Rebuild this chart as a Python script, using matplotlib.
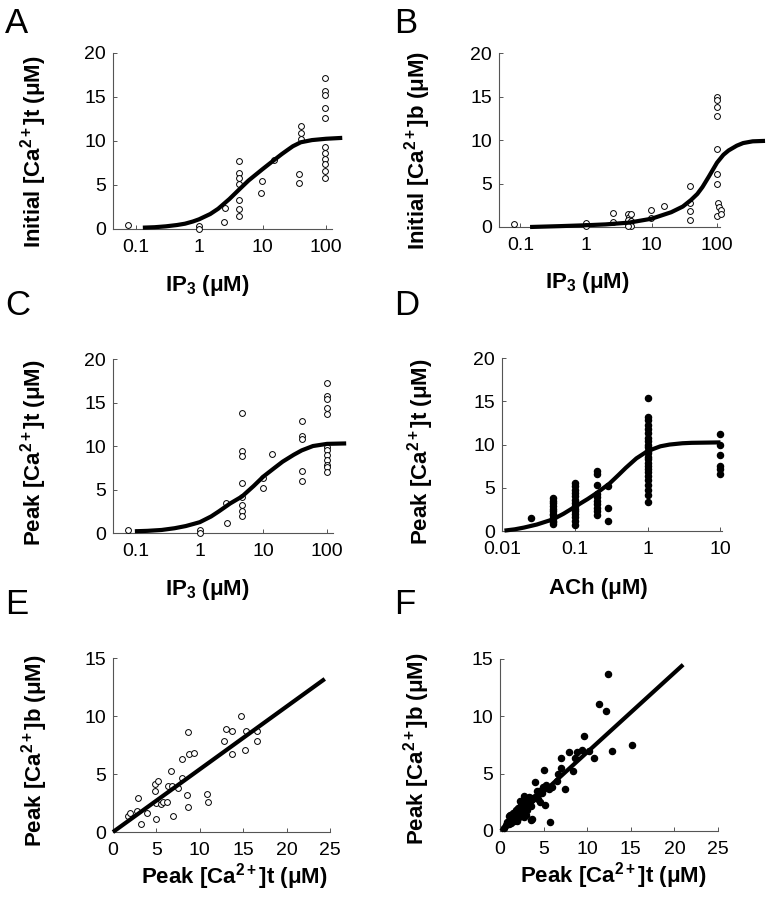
import numpy as np
import matplotlib
matplotlib.use("Agg")
import matplotlib.pyplot as plt

plt.rcParams['font.family'] = ['Liberation Sans', 'DejaVu Sans']
plt.rcParams['mathtext.fontset'] = 'custom'
plt.rcParams['mathtext.rm'] = 'Liberation Sans'
plt.rcParams['mathtext.bf'] = 'Liberation Sans:bold'
plt.rcParams['mathtext.it'] = 'Liberation Sans:italic'

# ---- panel A: initial [Ca2+]t vs IP3 ----
a_x = [0.075, 1.0, 1.0, 2.6, 2.5,
       4.3, 4.3, 4.3, 4.3, 4.3, 4.3, 4.3,
       9.7, 9.5, 15, 38, 38, 40, 40, 40,
       98, 98, 98, 98, 98, 98, 98, 98, 98, 98, 98]
a_y = [0.4, 0.3, 0.0, 2.4, 0.8,
       7.7, 6.4, 5.8, 5.1, 3.3, 2.3, 1.5,
       5.4, 4.1, 7.8, 6.3, 5.2, 11.7, 10.9, 10.2,
       17.1, 15.7, 15.2, 13.8, 12.6, 9.3, 8.6, 7.9, 7.4, 6.6, 5.8]
a_fit_x = [0.13, 0.2, 0.3, 0.45, 0.6, 0.8, 1.0, 1.5, 2.0, 3.0, 4.3, 6.0,
           10, 15, 20, 25, 30, 40, 60, 100, 180]
a_fit_y = [0.15, 0.2, 0.3, 0.45, 0.6, 0.85, 1.1, 1.7, 2.3, 3.4, 4.5, 5.5,
           6.8, 7.8, 8.5, 9.0, 9.4, 9.85, 10.1, 10.25, 10.35]

# ---- panel B: initial [Ca2+]b vs IP3 ----
b_x = [0.08, 1.0, 1.0, 2.6, 2.6,
       4.3, 4.6, 4.3, 4.9, 4.8, 4.3, 4.9, 4.3,
       9.9, 9.9, 15.3, 38, 38, 38, 38,
       100, 100, 100, 100, 100, 100, 100, 104, 106, 113, 100, 115]
b_y = [0.4, 0.5, 0.1, 1.6, 0.6,
       1.45, 1.15, 0.85, 1.45, 0.7, 0.4, 0.1, 0.1,
       1.9, 1.0, 2.45, 4.7, 2.8, 1.8, 0.8,
       14.9, 14.6, 13.8, 12.8, 9.0, 6.1, 4.9, 2.8, 2.3, 2.0, 1.3, 1.45]
b_fit_x = [0.14, 0.4, 1.0, 2.0, 4.5, 10, 20, 30, 40, 50, 60, 75, 100,
           125, 150, 200, 250, 350, 540]
b_fit_y = [0.0, 0.1, 0.2, 0.3, 0.5, 0.95, 1.7, 2.35, 3.1, 3.8, 4.6, 5.8, 7.4,
           8.3, 8.8, 9.35, 9.65, 9.85, 9.9]

# ---- panel C: peak [Ca2+]t vs IP3 ----
c_x = [0.075, 1.0, 1.0, 2.6, 2.7,
       4.6, 4.6, 4.6, 4.6, 4.6, 4.6, 4.6, 4.6,
       9.8, 10, 13.4, 40, 40, 40, 40, 40,
       100, 100, 100, 100, 100, 100, 100, 100, 100, 100, 100, 100]
c_y = [0.35, 0.3, 0.0, 3.5, 1.2,
       13.8, 9.4, 8.8, 5.7, 4.1, 3.25, 2.5, 2.0,
       6.3, 5.2, 9.1, 12.9, 11.1, 10.85, 7.1, 6.0,
       17.3, 15.8, 15.4, 14.4, 13.7, 9.9, 9.6, 9.0, 8.4, 7.8, 7.6, 7.0]
c_fit_x = [0.095, 0.15, 0.25, 0.4, 0.6, 0.8, 1.0, 1.5, 2.0, 3.0, 4.6, 7.0,
           10, 15, 20, 30, 40, 60, 100, 200]
c_fit_y = [0.2, 0.25, 0.35, 0.55, 0.8, 1.05, 1.25, 1.9, 2.5, 3.4, 4.2, 5.4,
           6.5, 7.5, 8.2, 9.0, 9.5, 10.0, 10.25, 10.3]

# ---- panel D: peak [Ca2+]t vs ACh ----
d_x = ([0.025] + [0.05] * 12 + [0.1] * 14 + [0.2] * 10 + [0.29] * 3
       + [1.0] * 24 + [10] * 6)
d_y = ([1.5]
       + [3.8, 3.5, 3.2, 2.9, 2.6, 2.3, 2.0, 1.8, 1.5, 1.2, 1.0, 0.8]
       + [5.6, 5.2, 4.8, 4.4, 4.0, 3.6, 3.2, 2.9, 2.6, 2.3, 2.0, 1.6, 1.2, 0.75]
       + [7.0, 6.6, 5.3, 4.3, 3.9, 3.5, 3.1, 2.7, 2.3, 1.9]
       + [5.2, 2.7, 1.2]
       + [15.4, 13.2, 12.8, 12.3, 11.8, 11.3, 10.8, 10.4, 10.0, 9.7, 9.3, 9.0,
          8.6, 8.3, 7.9, 7.5, 7.2, 6.8, 6.4, 5.9, 5.3, 4.8, 4.2, 3.4]
       + [11.2, 10.0, 8.75, 7.5, 7.15, 6.65])
d_fit_x = [0.0108, 0.015, 0.02, 0.03, 0.05, 0.07, 0.1, 0.15, 0.2, 0.3, 0.4,
           0.5, 0.7, 1.0, 1.5, 2.0, 3.0, 4.0, 10]
d_fit_y = [0.05, 0.2, 0.4, 0.75, 1.35, 2.0, 2.8, 3.7, 4.4, 5.5, 6.5,
           7.3, 8.4, 9.25, 9.8, 10.0, 10.15, 10.2, 10.25]

# ---- panel E: peak b vs peak t (IP3) ----
e_x = [1.7, 2.0, 2.9, 2.8, 3.2, 3.9, 4.8, 5.2, 4.8, 5.0, 5.0, 5.5, 5.8, 6.2,
       6.3, 6.7, 6.8, 6.9, 7.5, 7.9, 8.0, 8.5, 8.7, 8.7, 8.8, 9.3, 10.8, 11.0,
       12.8, 13.0, 13.7, 13.7, 14.7, 15.2, 15.3, 16.6, 16.6]
e_y = [1.4, 1.6, 2.9, 1.8, 0.7, 1.6, 4.1, 4.4, 3.5, 2.5, 1.15, 2.4, 2.6, 2.6,
       3.95, 5.3, 4.0, 1.4, 3.8, 6.3, 4.7, 3.2, 2.2, 8.65, 6.7, 6.8, 3.3, 2.6,
       7.85, 8.9, 8.75, 6.75, 10.0, 7.1, 8.75, 8.75, 7.85]
e_fit_x = [0, 24.4]
e_fit_y = [0, 13.2]

# ---- panel F: peak b vs peak t (ACh) ----
f_x = [0.5, 0.7, 0.8, 1.0, 1.1, 1.2, 1.3, 1.4, 1.5, 1.6, 1.7, 1.8, 1.9, 2.0,
       2.1, 2.2, 2.3, 2.4, 2.5, 2.6, 2.7, 2.8, 2.9, 3.0, 3.1, 3.2, 3.3, 3.5,
       3.6, 3.7, 4.0, 4.3, 4.5, 4.8, 4.9, 1.5, 2.0, 2.5, 3.0, 1.0, 2.3, 2.7,
       2.75, 3.5, 3.55, 4.05, 4.2, 4.6, 5.1, 5.2, 5.3, 5.65, 5.7, 6.0, 6.55,
       6.7, 7.0, 7.0, 7.5, 7.9, 8.4, 8.55, 8.8, 9.4, 9.6, 10.15, 10.8, 11.3,
       12.1, 12.4, 12.9, 15.1]
f_y = [0.3, 0.5, 0.8, 0.6, 1.0, 1.4, 0.7, 1.1, 1.6, 0.9, 1.3, 1.8, 1.1, 1.5,
       2.0, 1.2, 1.7, 2.3, 1.4, 1.9, 2.5, 1.6, 2.2, 2.6, 1.8, 2.4, 3.0, 2.2,
       2.7, 1.0, 3.0, 2.8, 3.5, 3.3, 3.8, 1.2, 0.9, 2.6, 1.4, 1.3, 2.6, 1.2,
       3.05, 2.9, 0.95, 4.25, 3.5, 2.55, 5.3, 2.25, 4.05, 3.7, 0.75, 3.85, 4.35,
       5.0, 6.35, 5.5, 3.65, 6.85, 5.25, 6.35, 6.85, 7.05, 8.3, 7.0, 6.35, 11.1,
       10.5, 13.7, 6.95, 7.5]
f_fit_x = [0.1, 21.0]
f_fit_y = [0.0, 14.5]

fig = plt.figure(figsize=(7.69, 8.99), dpi=100)

def style(ax):
    for s in ['top', 'right']:
        ax.spines[s].set_visible(False)
    for s in ['left', 'bottom']:
        ax.spines[s].set_linewidth(0.8)
        ax.spines[s].set_color('#555555')
    ax.tick_params(direction='in', length=3, width=0.7, color='#555555',
                   labelsize=14)
    ax.tick_params(axis='x', pad=7)
    ax.tick_params(axis='y', pad=5)
    ax.tick_params(which='minor', length=0)

def log_panel(rect, xlim, ticks, ticklabels):
    ax = fig.add_axes(rect)
    ax.set_xscale('log')
    ax.set_xlim(*xlim)
    ax.set_xticks(ticks)
    ax.set_xticklabels(ticklabels)
    ax.set_ylim(0, 20)
    ax.set_yticks([0, 5, 10, 15, 20])
    style(ax)
    return ax

ip3_ticks = [0.1, 1, 10, 100]
ip3_labels = ['0.1', '1', '10', '100']
lab_kw = dict(fontsize=16, fontweight='bold')
open_kw = dict(marker='o', ms=4.2, mfc='white', mec='black', mew=0.7,
               ls='none', clip_on=False, zorder=3)
fill_kw = dict(marker='o', ms=4.4, color='black', ls='none', clip_on=False, zorder=3)
fit_kw = dict(color='black', lw=3.0, solid_capstyle='butt', clip_on=False, zorder=4)

# A
ax = log_panel([0.1469, 0.7453, 0.2848, 0.1958], (0.044, 124), ip3_ticks, ip3_labels)
ax.plot(a_x, a_y, **open_kw)
ax.plot(a_fit_x, a_fit_y, **fit_kw)
ax.set_ylabel('Initial [Ca$^{\\mathbf{2+}}$]t (\u03bcM)', **lab_kw)
ax.set_xlabel('IP$_{\\mathbf{3}}$ (\u03bcM)', **lab_kw)
ax.yaxis.set_label_coords(-0.29, 0.44)
ax.xaxis.set_label_coords(0.43, -0.25)

# B
ax = log_panel([0.6489, 0.7475, 0.2874, 0.1935], (0.047, 111), ip3_ticks, ip3_labels)
ax.plot(b_x, b_y, **open_kw)
ax.plot(b_fit_x, b_fit_y, **fit_kw)
ax.set_ylabel('Initial [Ca$^{\\mathbf{2+}}$]b (\u03bcM)', **lab_kw)
ax.set_xlabel('IP$_{\\mathbf{3}}$ (\u03bcM)', **lab_kw)
ax.yaxis.set_label_coords(-0.30, 0.44)
ax.xaxis.set_label_coords(0.40, -0.25)

# C
ax = log_panel([0.1469, 0.4071, 0.2861, 0.1935], (0.043, 124), ip3_ticks, ip3_labels)
ax.plot(c_x, c_y, **open_kw)
ax.plot(c_fit_x, c_fit_y, **fit_kw)
ax.set_ylabel('Peak [Ca$^{\\mathbf{2+}}$]t (\u03bcM)', **lab_kw)
ax.set_xlabel('IP$_{\\mathbf{3}}$ (\u03bcM)', **lab_kw)
ax.yaxis.set_label_coords(-0.29, 0.46)
ax.xaxis.set_label_coords(0.43, -0.25)

# D
ax = log_panel([0.6528, 0.4093, 0.2861, 0.1924], (0.0106, 10.5),
               [0.01, 0.1, 1, 10], ['0.01', '0.1', '1', '10'])
ax.plot(d_x, d_y, **fill_kw)
ax.plot(d_fit_x, d_fit_y, **fit_kw)
ax.set_ylabel('Peak [Ca$^{\\mathbf{2+}}$]t (\u03bcM)', **lab_kw)
ax.set_xlabel('ACh (\u03bcM)', **lab_kw)
ax.yaxis.set_label_coords(-0.30, 0.46)
ax.xaxis.set_label_coords(0.44, -0.27)

# E
ax = fig.add_axes([0.1469, 0.0745, 0.2822, 0.1935])
ax.set_xlim(0, 25)
ax.set_ylim(0, 15)
ax.set_xticks([0, 5, 10, 15, 20, 25])
ax.set_yticks([0, 5, 10, 15])
style(ax)
ax.plot(e_x, e_y, **open_kw)
ax.plot(e_fit_x, e_fit_y, **fit_kw)
ax.set_ylabel('Peak [Ca$^{\\mathbf{2+}}$]b (\u03bcM)', **lab_kw)
ax.set_xlabel('Peak [Ca$^{\\mathbf{2+}}$]t (\u03bcM)', **lab_kw)
ax.yaxis.set_label_coords(-0.29, 0.47)
ax.xaxis.set_label_coords(0.56, -0.17)

# F
ax = fig.add_axes([0.6502, 0.0757, 0.2835, 0.1913])
ax.set_xlim(0, 25)
ax.set_ylim(0, 15)
ax.set_xticks([0, 5, 10, 15, 20, 25])
ax.set_yticks([0, 5, 10, 15])
style(ax)
ax.plot(f_x, f_y, **fill_kw)
ax.plot(f_fit_x, f_fit_y, **fit_kw)
ax.set_ylabel('Peak [Ca$^{\\mathbf{2+}}$]b (\u03bcM)', **lab_kw)
ax.set_xlabel('Peak [Ca$^{\\mathbf{2+}}$]t (\u03bcM)', **lab_kw)
ax.yaxis.set_label_coords(-0.31, 0.48)
ax.xaxis.set_label_coords(0.52, -0.17)

# panel letters
for letter, x, y in [('A', 0.007, 0.992), ('B', 0.512, 0.992),
                     ('C', 0.007, 0.678), ('D', 0.512, 0.678),
                     ('E', 0.007, 0.346), ('F', 0.512, 0.346)]:
    fig.text(x, y, letter, fontsize=25, va='top', ha='left')

fig.savefig('out.png', dpi=100)
